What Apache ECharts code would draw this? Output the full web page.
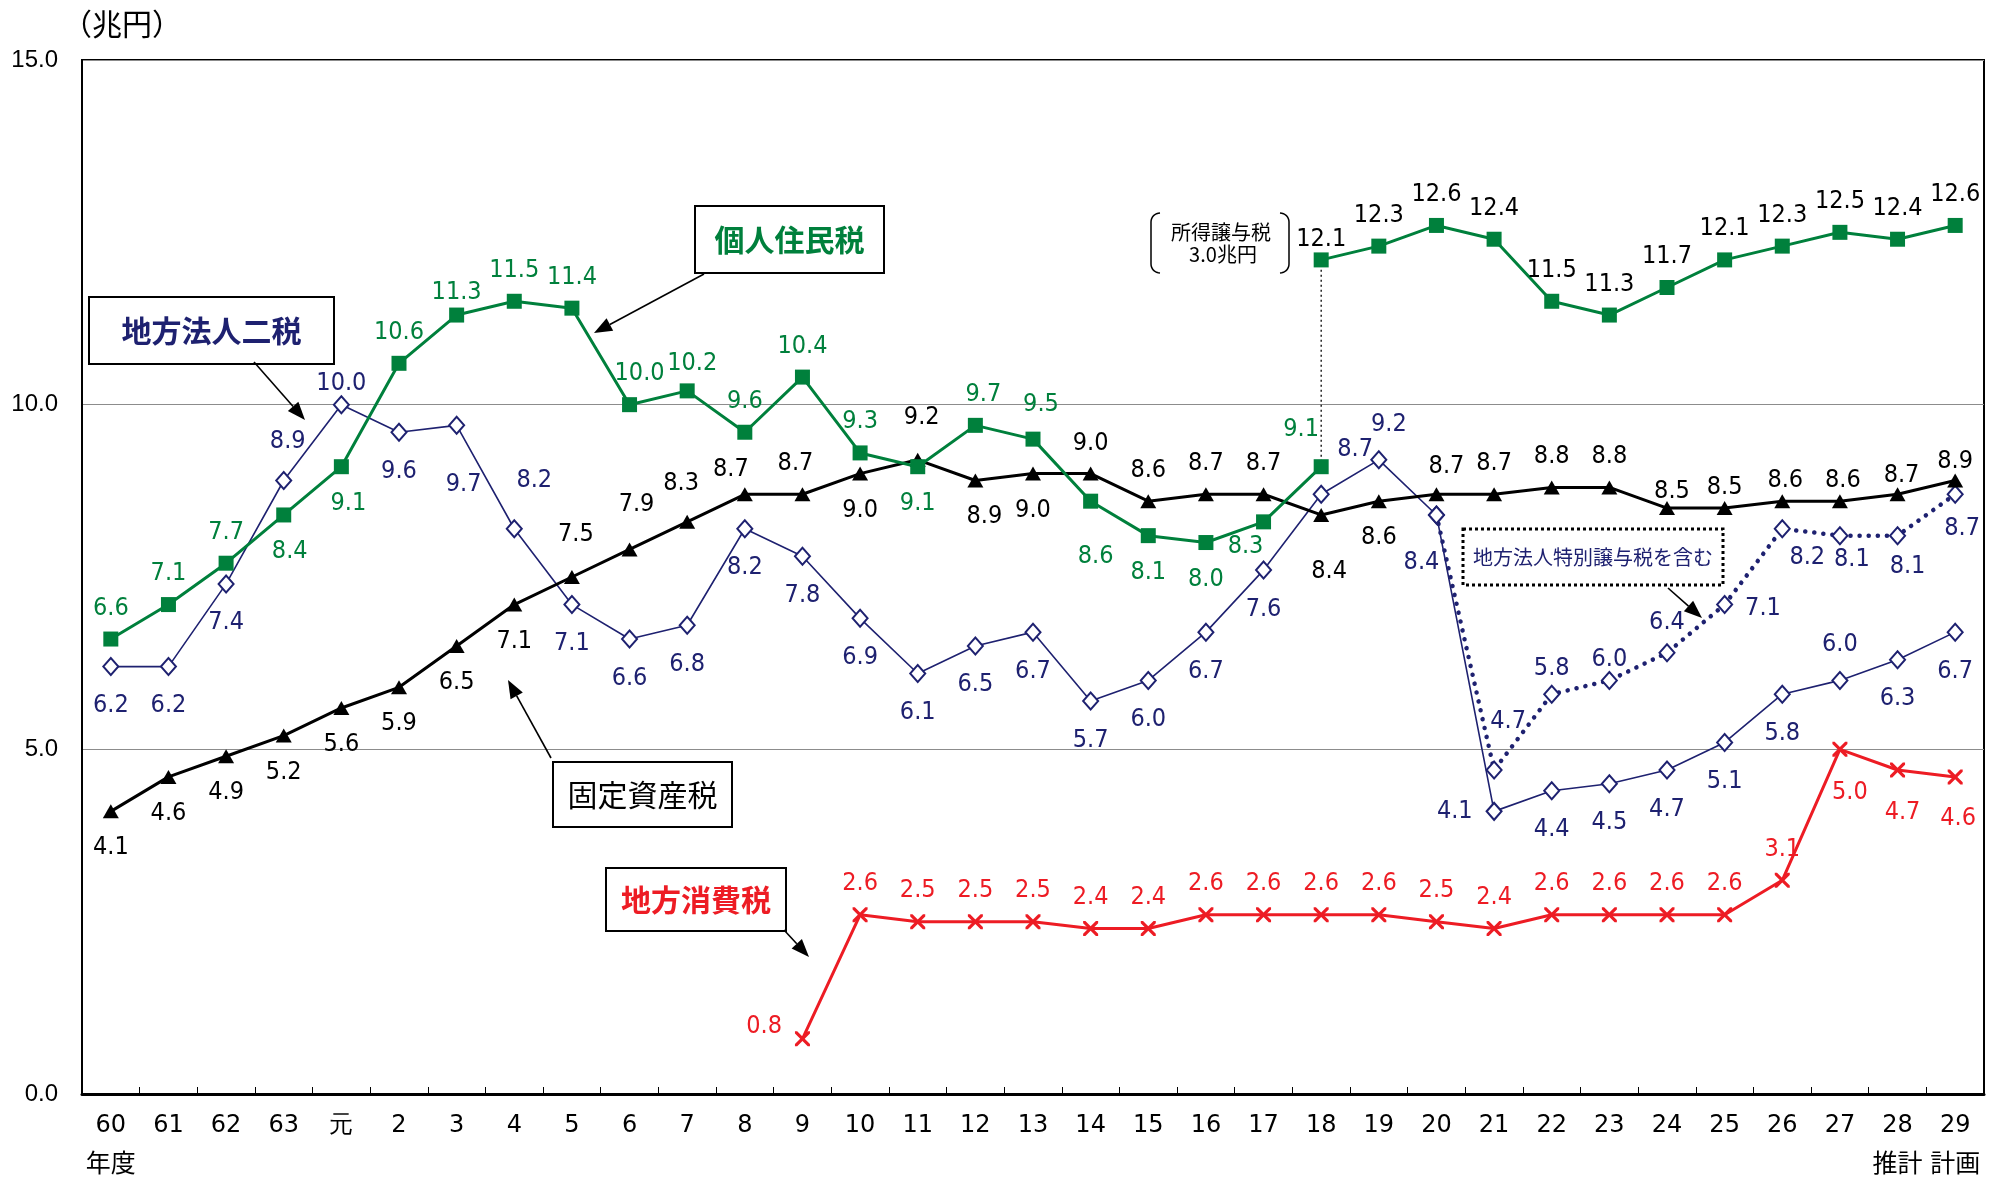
<!DOCTYPE html>
<html><head><meta charset="utf-8">
<script src="https://cdn.jsdelivr.net/npm/echarts@6/dist/echarts.min.js"></script>
<style>html,body{margin:0;padding:0;background:#fff}#c{width:1997px;height:1180px}</style>
</head><body><div id="c"></div>
<script>
// ---------- data ----------
const categories = ['60','61','62','63','元','2','3','4','5','6','7','8','9','10','11','12','13','14','15','16','17','18','19','20','21','22','23','24','25','26','27','28','29'];
const N = null;
// 個人住民税 (before / after 所得譲与税)
const residentA = [6.6,7.1,7.7,8.4,9.1,10.6,11.3,11.5,11.4,10.0,10.2,9.6,10.4,9.3,9.1,9.7,9.5,8.6,8.1,8.0,8.3,9.1,N,N,N,N,N,N,N,N,N,N,N];
const residentB = [N,N,N,N,N,N,N,N,N,N,N,N,N,N,N,N,N,N,N,N,N,12.1,12.3,12.6,12.4,11.5,11.3,11.7,12.1,12.3,12.5,12.4,12.6];
// 地方法人二税
const corporate = [6.2,6.2,7.4,8.9,10.0,9.6,9.7,8.2,7.1,6.6,6.8,8.2,7.8,6.9,6.1,6.5,6.7,5.7,6.0,6.7,7.6,8.7,9.2,8.4,4.1,4.4,4.5,4.7,5.1,5.8,6.0,6.3,6.7];
// 地方法人特別譲与税を含む
const corporateIncl = [N,N,N,N,N,N,N,N,N,N,N,N,N,N,N,N,N,N,N,N,N,N,N,8.4,4.7,5.8,6.0,6.4,7.1,8.2,8.1,8.1,8.7];
// 固定資産税
const property = [4.1,4.6,4.9,5.2,5.6,5.9,6.5,7.1,7.5,7.9,8.3,8.7,8.7,9.0,9.2,8.9,9.0,9.0,8.6,8.7,8.7,8.4,8.6,8.7,8.7,8.8,8.8,8.5,8.5,8.6,8.6,8.7,8.9];
// 地方消費税
const consumption = [N,N,N,N,N,N,N,N,N,N,N,N,0.8,2.6,2.5,2.5,2.5,2.4,2.4,2.6,2.6,2.6,2.6,2.5,2.4,2.6,2.6,2.6,2.6,3.1,5.0,4.7,4.6];

// ---------- label placement (side + nudges) ----------
const residentAPos = ['t','t','t','b','b','t','t','t','t','t','t','t','t','t','b','t','t','b','b','b','b','t'];
const residentANudge = {3:[6,0],4:[7,0],6:[0,8],9:[10,0],10:[5,4],15:[8,0],16:[8,-4],17:[5,18],20:[-18,-12],21:[-20,-6]};
const residentBNudge = {21:[0,11]};
const corporatePos = ['b','b','b','t','t','b','b','t','b','b','b','b','b','b','b','b','b','b','b','b','b','t','t','b','l','b','b','b','b','b','t','b','b'];
const corporateNudge = {3:[4,-6],4:[0,12],6:[7,20],7:[20,-15],21:[34,-12],22:[10,-2],23:[-15,8],30:[0,-3]};
const corporateInclPos = {23:'n',24:'t',25:'t',26:'t',27:'t',28:'r',29:'b',30:'b',31:'b',32:'b'};
const corporateInclNudge = {24:[14,-15],25:[0,7],26:[0,12],27:[0,3],28:[0,4],29:[25,-10],30:[12,-15],31:[10,-8],32:[7,-5]};
const propertyPos = ['b','b','b','b','b','b','b','b','t','t','t','t','t','b','t','b','b','t','t','t','t','b','b','t','t','t','t','t','t','t','t','t','t'];
const propertyNudge = {8:[4,-12],9:[7,-14],10:[-6,-8],11:[-14,6],12:[-7,0],14:[4,-12],15:[9,0],21:[8,20],23:[10,3],27:[5,14],28:[0,10],29:[3,10],30:[3,10],31:[4,12],32:[0,12]};
const consumptionPos = {12:'l',30:'b',31:'b',32:'b'};
const consumptionNudge = {12:[0,-12],30:[10,6],31:[5,5],32:[3,5]};

// ---------- styles ----------
const GREEN = '#00803C', NAVY = '#1E2170', RED = '#ED1C24', BLACK = '#000';
const LBL_FONT = '"Liberation Sans Narrow", "DejaVu Sans Condensed", sans-serif';
const SIDE = {t:'top', b:'bottom', l:'left', r:'right'};
const DIST = {t:11, b:17, l:13, r:12};

function build(arr, posFn, nudge){
  return arr.map((v,i)=>{
    if(v==null) return null;
    const code = posFn(i) || 't';
    if(code==='n') return {value:v, label:{show:false}};
    return {value:v, label:{position:SIDE[code], distance:DIST[code], offset:(nudge&&nudge[i])||[0,0]}};
  });
}

const crossPath = 'path://M0,0 L3,0 L10,7 L17,0 L20,0 L20,3 L13,10 L20,17 L20,20 L17,20 L10,13 L3,20 L0,20 L0,17 L7,10 L0,3 Z';
const labelBase = (color) => ({show:true, color, fontFamily:LBL_FONT, fontSize:25, formatter: p => Number(p.value).toFixed(1)});

const chart = echarts.init(document.getElementById('c'), null, {renderer:'canvas'});

// ---------- annotations ----------
function box(x1,y1,x2,y2,text,color,opts={}){
  return [
    {type:'rect', shape:{x:x1,y:y1,width:x2-x1,height:y2-y1}, style:{fill:'#fff', stroke:'#000', lineWidth:opts.lw||2, lineDash:opts.dash||null}, z:50},
    {type:'text', x:(x1+x2)/2, y:(y1+y2)/2, style:{text, fill:color, font:(opts.weight||'bold')+' '+(opts.size||30)+'px "Noto Sans CJK JP"', align:'center', verticalAlign:'middle'}, z:51}
  ];
}
function arrow(x1,y1,x2,y2){
  const a = Math.atan2(y2-y1,x2-x1), L=18, W=14;
  const bx = x2 - L*Math.cos(a), by = y2 - L*Math.sin(a);
  const px = -Math.sin(a), py = Math.cos(a);
  return [
    {type:'line', shape:{x1,y1,x2:bx,y2:by}, style:{stroke:'#000', lineWidth:1.6}, z:50},
    {type:'polygon', shape:{points:[[x2,y2],[bx+px*W/2,by+py*W/2],[bx-px*W/2,by-py*W/2]]}, style:{fill:'#000'}, z:50}
  ];
}
function bracket(x, top, bot, dir){
  const r = 9, pts = [];
  for(let k=0;k<=8;k++){ const t=Math.PI/2*(1-k/8); pts.push([x+dir*r*(1-Math.cos(t)), top+r*(1-Math.sin(t))]); }
  for(let k=0;k<=8;k++){ const t=Math.PI/2*(k/8); pts.push([x+dir*r*(1-Math.cos(t)), bot-r*(1-Math.sin(t))]); }
  return {type:'polyline', shape:{points:pts}, style:{stroke:'#000', fill:null, lineWidth:1.5}, z:51};
}
const graphics = [].concat(
  box(695,206,884,273,'個人住民税',GREEN),
  arrow(704,274,594,333),
  box(89,297,334,364,'地方法人二税',NAVY),
  arrow(254,362,305,420),
  box(553,762,732,827,'固定資産税',BLACK,{weight:'normal'}),
  arrow(551,758,508,680),
  box(606,868,786,931,'地方消費税',RED),
  arrow(784,930,809,957),
  box(1463,529,1723,585,'地方法人特別譲与税を含む',NAVY,{weight:'normal',size:20,dash:[3,3],lw:3}),
  arrow(1668,588,1702,618),
  [
    {type:'text', x:122, y:24, style:{text:'（兆円）', fill:'#000', font:'30px "Noto Sans CJK JP"', align:'center', verticalAlign:'middle'}},
    {type:'text', x:1221, y:232, style:{text:'所得譲与税', fill:'#000', font:'20px "Noto Sans CJK JP"', align:'center', verticalAlign:'middle'}, z:51},
    {type:'text', x:1223, y:254, style:{text:'3.0兆円', fill:'#000', font:'20px "Noto Sans CJK JP"', align:'center', verticalAlign:'middle'}, z:51},
    bracket(1151, 213, 273, 1),
    bracket(1289, 213, 273, -1)
  ]
);

const option = {
  animation:false,
  backgroundColor:'#fff',
  grid:{left:82, right:13, top:60, bottom:82, show:true, borderColor:'#000', borderWidth:2, backgroundColor:'transparent'},
  xAxis:{
    type:'category', data:categories, boundaryGap:true,
    axisLine:{lineStyle:{color:'#000', width:3}},
    axisTick:{show:true, inside:true, length:7, lineStyle:{color:'#000', width:1}},
    axisLabel:{
      color:'#000', fontFamily:'DejaVu Sans', fontSize:24, margin:14, lineHeight:36, interval:0,
      formatter:(v)=>{
        if(v==='60') return v+'\n{s|年度}';
        if(v==='28') return v+'\n{s|推計}';
        if(v==='29') return v+'\n{s|計画}';
        return v;
      },
      rich:{s:{fontFamily:'Noto Sans CJK JP', fontSize:25, color:'#000', lineHeight:36}}
    }
  },
  yAxis:{
    type:'value', min:0, max:15, interval:5,
    axisLine:{show:true, lineStyle:{color:'#000', width:2}},
    axisTick:{show:false},
    splitLine:{show:true, lineStyle:{color:'#8c8c8c', width:1.2}},
    axisLabel:{color:'#000', fontFamily:'Liberation Sans', fontSize:24, margin:24, formatter:v=>v.toFixed(1)}
  },
  graphic: graphics,
  series:[
    {type:'line', name:'所得譲与税', data:[[21,residentA[21]],[21,residentB[21]]], symbol:'none', lineStyle:{color:'#000', width:1.3, type:[2,3]}, z:1, silent:true},
    {type:'line', name:'地方消費税', data:build(consumption, i=>consumptionPos[i], consumptionNudge),
      symbol:crossPath, symbolSize:15, itemStyle:{color:RED}, lineStyle:{color:RED, width:3},
      label:labelBase(RED), z:3},
    {type:'line', name:'地方法人二税', data:build(corporate, i=>corporatePos[i], corporateNudge),
      symbol:'emptyDiamond', symbolSize:[15,17], itemStyle:{color:NAVY, borderWidth:2}, lineStyle:{color:NAVY, width:1.6},
      label:labelBase(NAVY), z:4},
    {type:'line', name:'地方法人特別譲与税を含む', data:build(corporateIncl, i=>corporateInclPos[i], corporateInclNudge),
      symbol:'emptyDiamond', symbolSize:[15,17], itemStyle:{color:NAVY, borderWidth:2}, lineStyle:{color:NAVY, width:4.5, type:[0.1,9], cap:'round'},
      label:labelBase(NAVY), z:4},
    {type:'line', name:'固定資産税', data:build(property, i=>propertyPos[i], propertyNudge),
      symbol:'triangle', symbolSize:[16,14], itemStyle:{color:BLACK}, lineStyle:{color:BLACK, width:3},
      label:labelBase(BLACK), z:5},
    {type:'line', name:'個人住民税', data:build(residentA, i=>residentAPos[i], residentANudge),
      symbol:'rect', symbolSize:15, itemStyle:{color:GREEN}, lineStyle:{color:GREEN, width:3},
      label:labelBase(GREEN), z:6},
    {type:'line', name:'個人住民税2', data:build(residentB, i=>'t', residentBNudge),
      symbol:'rect', symbolSize:15, itemStyle:{color:GREEN}, lineStyle:{color:GREEN, width:3},
      label:labelBase(BLACK), z:6}
  ]
};
chart.setOption(option);
</script>
</body></html>
